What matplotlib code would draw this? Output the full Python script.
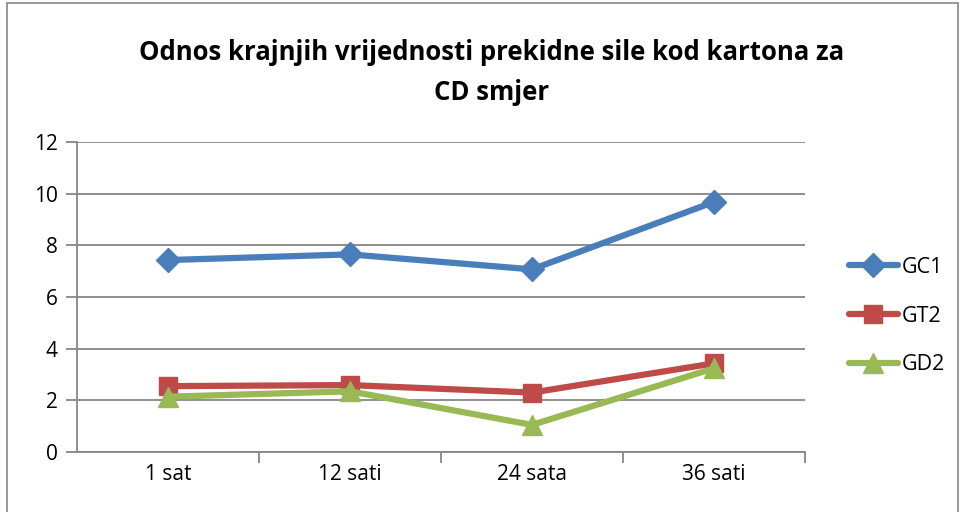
import matplotlib
matplotlib.use("Agg")
import matplotlib.pyplot as plt
from matplotlib.patches import Rectangle

categories = ["1 sat", "12 sati", "24 sata", "36 sati"]
gc1 = [7.43, 7.65, 7.07, 9.68]
gt2 = [2.55, 2.59, 2.30, 3.43]
gd2 = [2.14, 2.35, 1.05, 3.24]
series_names = ["GC1", "GT2", "GD2"]
colors = ["#4A7EBB", "#BE4B48", "#98B954"]
markers = ["D", "s", "^"]

plt.rcParams['font.family'] = ['Open Sans', 'DejaVu Sans']

fig = plt.figure(figsize=(9.66, 5.12), dpi=100)
W, H = 966, 512
ax = fig.add_axes([77 / W, 1 - 452 / H, (805 - 77) / W, (452 - 142) / H])

x = [i + 0.5 for i in range(len(categories))]
handles = []
for vals, name, c, m in zip([gc1, gt2, gd2], series_names, colors, markers):
    ms = 12 if m == "D" else (13 if m == "s" else 14)
    h, = ax.plot(x, vals, color=c, lw=4.5, marker=m, markersize=ms,
                 markeredgecolor=c, markerfacecolor=c, solid_capstyle='round',
                 zorder=3, label=name)
    handles.append(h)

ax.set_xlim(0, 4)
ax.set_ylim(0, 12)
ax.set_yticks(range(0, 13, 2))
ax.set_xticks(x)
ax.set_xticklabels(categories)
ax.set_xticks([1, 2, 3, 4], minor=True)
ax.yaxis.grid(True, color="#868686", lw=1.3)
ax.set_axisbelow(True)
for s in ["top", "right"]:
    ax.spines[s].set_visible(False)
for s in ["left", "bottom"]:
    ax.spines[s].set_color("#868686")
    ax.spines[s].set_linewidth(1.3)
ax.tick_params(axis='y', length=8, width=1.3, color="#868686", labelsize=15, pad=6)
ax.tick_params(axis='x', which='major', length=0, labelsize=15, pad=9)
ax.tick_params(axis='x', which='minor', length=8, width=1.3, color="#868686")

fig.text(492 / W, 1 - 52 / H, "Odnos krajnjih vrijednosti prekidne sile kod kartona za",
         ha='center', va='center', fontsize=18.5, fontweight='bold')
fig.text(492 / W, 1 - 92 / H, "CD smjer",
         ha='center', va='center', fontsize=18.5, fontweight='bold')

leg = fig.legend(handles=handles, loc='center left',
                 bbox_to_anchor=(840 / W, 1 - 316 / H), frameon=False,
                 fontsize=15.5, handlelength=2.3, labelspacing=1.3,
                 handletextpad=0.15, borderaxespad=0)

fig.patches.append(Rectangle((7 / W, -0.1), (958 - 7) / W, 1.1 - 3 / H,
                             transform=fig.transFigure, fill=False,
                             edgecolor="#868686", lw=1.2))

fig.savefig("out.png", dpi=100)
